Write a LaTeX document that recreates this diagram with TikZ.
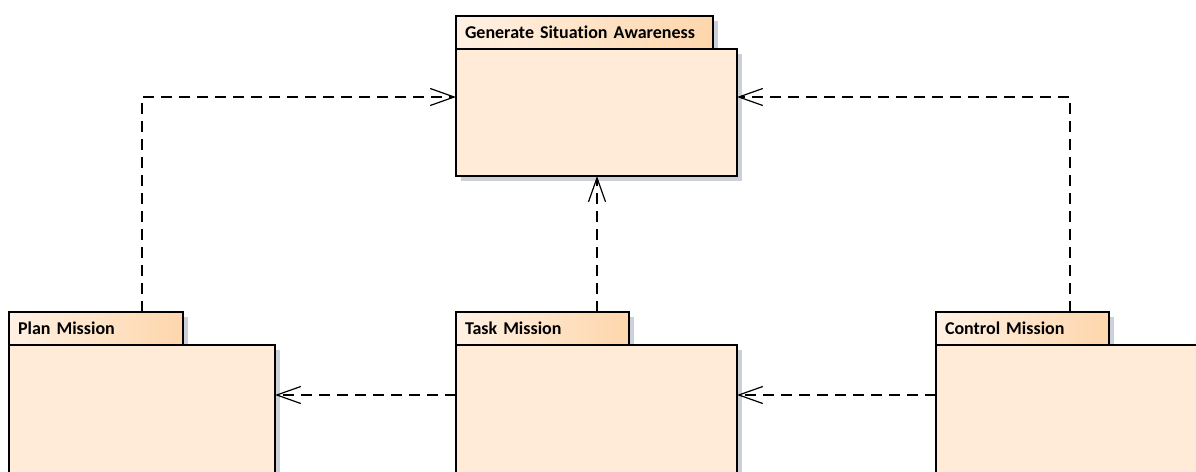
\documentclass[tikz,border=0pt]{standalone}
\usepackage{fontspec}
\setmainfont{Carlito}[Ligatures={NoCommon}]
\usetikzlibrary{positioning,arrows.meta,shadows}
\definecolor{pkgfill}{RGB}{255,235,215}
\definecolor{tableft}{RGB}{255,241,228}
\definecolor{tabright}{RGB}{254,214,172}
\definecolor{shade}{RGB}{205,208,217}
\begin{document}
\begin{tikzpicture}[x=1pt,y=-1pt]
    \tikzset{
    pkgtab/.style={draw,line width=1.3pt,left color=tableft,right color=tabright,
        minimum height=33pt,inner xsep=9pt,inner ysep=0pt,outer sep=0pt,
        align=left,anchor=north west,font=\fontsize{18}{21}\selectfont\bfseries,
        drop shadow={shadow xshift=5pt,shadow yshift=-5pt,fill=shade,opacity=1}},
    pkgbody/.style={draw,line width=1.3pt,fill=pkgfill,inner sep=0pt,outer sep=0pt,
        drop shadow={shadow xshift=5pt,shadow yshift=-5pt,fill=shade,opacity=1}},
    dep/.style={line width=1.2pt,dash pattern=on 11pt off 7pt,
        -{Straight Barb[length=24pt,width=17pt]}},
    }
    \path[use as bounding box,clip] (0,0) rectangle (1196,471);

    \node[pkgtab,text width=239pt] (gsa) at (456,16) {Generate Situation Awareness};
    \node[pkgbody,minimum width=281pt,minimum height=127pt,below right=0pt of gsa.south west] (gsab) {};

    \node[pkgtab,text width=156pt] (plan) at (9,312) {Plan Mission};
    \node[pkgbody,minimum width=266pt,minimum height=160pt,below right=0pt of plan.south west] (planb) {};

    \node[pkgtab,text width=155pt] (task) at (456,312) {Task Mission};
    \node[pkgbody,minimum width=281pt,minimum height=160pt,below right=0pt of task.south west] (taskb) {};

    \node[pkgtab,text width=155pt] (ctrl) at (936,312) {Control Mission};
    \node[pkgbody,minimum width=281pt,minimum height=160pt,below right=0pt of ctrl.south west] (ctrlb) {};

    \draw[dep] ([xshift=133pt]plan.north west) |- ([yshift=-48pt]gsab.north west);
    \draw[dep] ([xshift=134pt]ctrl.north west) |- ([yshift=-48pt]gsab.north east);
    \draw[dep] ([xshift=141pt]task.north west) -- ([xshift=141pt]gsab.south west);
    \draw[dep] ([yshift=-50pt]taskb.north west) -- ([yshift=-50pt]planb.north east);
    \draw[dep] ([yshift=-50pt]ctrlb.north west) -- ([yshift=-50pt]taskb.north east);
\end{tikzpicture}
\end{document}
